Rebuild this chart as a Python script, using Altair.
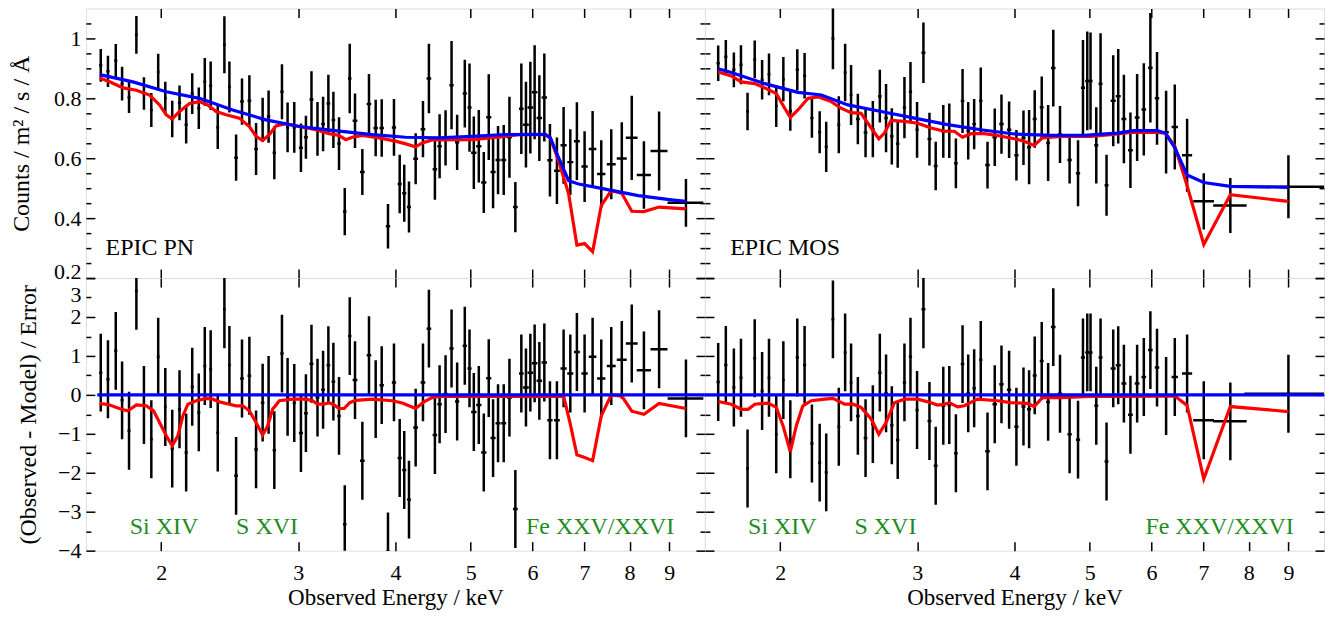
import altair as alt
import pandas as pd

# ---------------- data ----------------
# EPIC PN: bin energies (keV), counts, 1-sigma errors, bin half-widths (keV), residuals
PN_E = [1.672, 1.708, 1.748, 1.781, 1.818, 1.858, 1.900, 1.942, 1.982, 2.024,
        2.066, 2.111, 2.153, 2.192, 2.235, 2.275, 2.315, 2.364, 2.411, 2.447,
        2.496, 2.540, 2.596, 2.648, 2.700, 2.748, 2.795, 2.859, 2.907, 2.965,
        3.024, 3.069, 3.120, 3.176, 3.229, 3.280, 3.329, 3.385, 3.443, 3.494,
        3.549, 3.627, 3.699, 3.773, 3.841, 3.913, 3.983, 4.051, 4.106, 4.164,
        4.247, 4.340, 4.417, 4.496, 4.559, 4.640, 4.723, 4.802, 4.912, 4.981,
        5.045, 5.120, 5.196, 5.273, 5.341, 5.420, 5.512, 5.606, 5.705, 5.807,
        5.887, 5.964, 6.040, 6.125, 6.216, 6.320, 6.452, 6.581, 6.713, 6.845,
        7.003, 7.171, 7.357, 7.578, 7.818, 8.052, 8.347, 8.731, 9.453]
PN_V = [0.910, 0.890, 0.926, 0.849, 0.803, 1.012, 0.816, 0.761, 0.888, 0.800,
        0.731, 0.785, 0.712, 0.816, 0.767, 0.855, 0.842, 0.703, 0.979, 0.838,
        0.602, 0.789, 0.792, 0.631, 0.728, 0.739, 0.618, 0.822, 0.703, 0.703,
        0.635, 0.670, 0.796, 0.698, 0.714, 0.783, 0.728, 0.649, 0.422, 0.866,
        0.725, 0.554, 0.781, 0.701, 0.701, 0.373, 0.703, 0.514, 0.483, 0.437,
        0.598, 0.697, 0.866, 0.563, 0.640, 0.668, 0.844, 0.653, 0.816, 0.769,
        0.618, 0.640, 0.519, 0.737, 0.554, 0.594, 0.594, 0.670, 0.437, 0.765,
        0.712, 0.769, 0.820, 0.734, 0.803, 0.593, 0.558, 0.643, 0.587, 0.657,
        0.572, 0.631, 0.547, 0.580, 0.599, 0.668, 0.544, 0.624, 0.451]
PN_ERR = [0.055, 0.052, 0.055, 0.056, 0.052, 0.063, 0.054, 0.057, 0.061, 0.055,
          0.061, 0.058, 0.063, 0.068, 0.069, 0.080, 0.081, 0.072, 0.095, 0.085,
          0.077, 0.077, 0.085, 0.087, 0.074, 0.087, 0.088, 0.092, 0.083, 0.085,
          0.081, 0.072, 0.094, 0.090, 0.091, 0.096, 0.094, 0.088, 0.079, 0.116,
          0.091, 0.077, 0.100, 0.094, 0.096, 0.074, 0.095, 0.098, 0.095, 0.085,
          0.085, 0.094, 0.116, 0.102, 0.107, 0.092, 0.147, 0.092, 0.113, 0.147,
          0.121, 0.121, 0.102, 0.143, 0.121, 0.114, 0.117, 0.135, 0.084, 0.151,
          0.143, 0.153, 0.157, 0.143, 0.147, 0.121, 0.111, 0.128, 0.110, 0.130,
          0.118, 0.127, 0.113, 0.117, 0.121, 0.141, 0.113, 0.132, 0.080]
PN_XERR = [0.008, 0.008, 0.008, 0.008, 0.008, 0.008, 0.008, 0.008, 0.008, 0.008,
           0.010, 0.010, 0.010, 0.010, 0.010, 0.010, 0.010, 0.010, 0.010, 0.010,
           0.014, 0.014, 0.014, 0.014, 0.014, 0.014, 0.014, 0.014, 0.014, 0.014,
           0.018, 0.018, 0.018, 0.018, 0.018, 0.018, 0.018, 0.018, 0.018, 0.018,
           0.025, 0.025, 0.025, 0.025, 0.025, 0.025, 0.025, 0.025, 0.025, 0.025,
           0.030, 0.030, 0.030, 0.030, 0.030, 0.030, 0.030, 0.030, 0.030, 0.030,
           0.040, 0.040, 0.040, 0.040, 0.040, 0.040, 0.040, 0.040, 0.040, 0.040,
           0.050, 0.050, 0.050, 0.050, 0.050, 0.050, 0.055, 0.060, 0.060, 0.060,
           0.065, 0.080, 0.090, 0.100, 0.115, 0.140, 0.175, 0.220, 0.500]
PN_RES = [0.57, 0.40, 1.13, -0.14, -0.92, 2.67, -0.26, -1.14, 0.98, -0.31,
          -1.38, -0.37, -1.48, 0.21, -0.45, 0.74, 0.66, -0.97, 2.20, 0.77,
          -2.08, 0.42, 0.49, -1.40, -0.20, 0.00, -1.42, 1.06, -0.05, -0.21,
          -0.98, -0.47, 0.80, -0.07, 0.13, 0.76, 0.34, -0.54, -3.32, 1.51,
          0.38, -1.69, 1.02, -0.11, 0.25, -4.02, 0.32, -1.62, -1.93, -2.69,
          -0.84, 0.32, 1.70, -1.03, -0.24, 0.02, 1.19, -0.17, 1.26, 0.68,
          -0.44, -0.26, -1.48, 0.43, -1.11, -0.73, -0.73, -0.07, -2.93, 0.55,
          0.19, 0.57, 0.81, 0.36, 0.83, -0.65, -0.65, 0.68, 0.55, 1.10,
          0.55, 0.98, 0.42, 0.74, 0.90, 1.32, 0.63, 1.17, -0.09]

# EPIC MOS
MOS_E = [1.664, 1.702, 1.743, 1.780, 1.815, 1.854, 1.895, 1.934, 1.976, 2.018,
         2.060, 2.103, 2.149, 2.196, 2.247, 2.291, 2.337, 2.378, 2.423, 2.466,
         2.516, 2.574, 2.630, 2.685, 2.735, 2.782, 2.831, 2.888, 2.940, 2.998,
         3.055, 3.110, 3.168, 3.240, 3.298, 3.363, 3.430, 3.488, 3.550, 3.620,
         3.693, 3.773, 3.849, 3.937, 4.023, 4.108, 4.177, 4.247, 4.336, 4.419,
         4.487, 4.577, 4.709, 4.828, 4.899, 4.962, 5.010, 5.096, 5.161, 5.253,
         5.358, 5.438, 5.530, 5.638, 5.751, 5.866, 5.981, 6.100, 6.266, 6.429,
         6.668, 7.005, 7.578, 9.000]
MOS_V = [0.917, 0.939, 0.895, 0.912, 0.756, 0.930, 0.862, 0.880, 0.774, 0.864,
         0.758, 0.895, 0.875, 0.734, 0.687, 0.638, 1.000, 0.712, 0.886, 0.811,
         0.731, 0.686, 0.697, 0.807, 0.734, 0.673, 0.648, 0.769, 0.822, 0.695,
         0.952, 0.664, 0.574, 0.690, 0.692, 0.583, 0.791, 0.692, 0.714, 0.792,
         0.577, 0.670, 0.714, 0.695, 0.610, 0.668, 0.637, 0.731, 0.770, 0.651,
         0.901, 0.679, 0.594, 0.550, 0.835, 0.858, 0.858, 0.643, 0.849, 0.510,
         0.792, 0.807, 0.731, 0.627, 0.736, 0.763, 0.902, 0.800, 0.687, 0.704,
         0.610, 0.456, 0.442, 0.505]
MOS_ERR = [0.059, 0.056, 0.058, 0.065, 0.063, 0.063, 0.066, 0.070, 0.070, 0.074,
           0.066, 0.069, 0.076, 0.066, 0.070, 0.084, 0.103, 0.095, 0.096, 0.100,
           0.084, 0.083, 0.094, 0.088, 0.114, 0.094, 0.080, 0.102, 0.099, 0.093,
           0.101, 0.088, 0.081, 0.088, 0.091, 0.083, 0.107, 0.096, 0.084, 0.111,
           0.078, 0.096, 0.099, 0.094, 0.084, 0.091, 0.124, 0.096, 0.103, 0.127,
           0.128, 0.095, 0.078, 0.110, 0.160, 0.165, 0.162, 0.127, 0.168, 0.102,
           0.152, 0.158, 0.148, 0.126, 0.145, 0.154, 0.183, 0.155, 0.138, 0.142,
           0.122, 0.094, 0.092, 0.105]
MOS_XERR = [0.008, 0.008, 0.008, 0.008, 0.008, 0.008, 0.008, 0.008, 0.008, 0.008,
            0.010, 0.010, 0.010, 0.010, 0.010, 0.010, 0.010, 0.010, 0.010, 0.010,
            0.014, 0.014, 0.014, 0.014, 0.014, 0.014, 0.014, 0.014, 0.014, 0.014,
            0.018, 0.018, 0.018, 0.018, 0.018, 0.018, 0.018, 0.018, 0.018, 0.018,
            0.025, 0.025, 0.025, 0.025, 0.025, 0.025, 0.025, 0.025, 0.025, 0.025,
            0.030, 0.030, 0.030, 0.030, 0.030, 0.030, 0.030, 0.030, 0.030, 0.030,
            0.040, 0.040, 0.040, 0.040, 0.040, 0.040, 0.040, 0.040, 0.050, 0.060,
            0.100, 0.215, 0.375, 1.100]
MOS_RES = [0.33, 0.77, 0.19, 0.44, -1.89, 0.94, 0.10, 0.44, -1.01, 0.38,
           -1.14, 0.96, 0.77, -1.25, -1.74, -1.99, 1.94, -0.82, 1.09, 0.32,
           -0.54, -1.11, -0.75, 0.57, 0.04, -0.78, -1.16, 0.32, 0.98, -0.39,
           2.20, -0.67, -1.82, -0.28, -0.26, -1.50, 0.79, 0.04, 0.17, 0.90,
           -1.45, -0.24, 0.27, 0.13, -0.82, -0.30, -0.37, 0.50, 0.87, -0.18,
           1.74, 0.03, -1.01, -1.15, 0.96, 1.09, 1.09, -0.28, 0.96, -1.71,
           0.68, 0.76, 0.29, -0.51, 0.29, 0.46, 1.15, 0.70, -0.03, 0.46,
           0.55, -0.65, -0.68, 0.03]
RES_ERR = 1.0  # residuals are in units of the error

# model curves (blue = continuum, red = with absorption lines)
PN_BLUE_E = [1.667, 1.839, 2.030, 2.239, 2.471, 2.727, 3.009, 3.319, 3.736, 4.123, 4.549,
             5.019, 5.539, 6.234, 6.327, 6.484, 6.680, 6.880, 7.444, 8.210, 9.059, 9.453]
PN_BLUE_V = [0.879, 0.855, 0.822, 0.800, 0.761, 0.728, 0.706, 0.693, 0.679, 0.670, 0.668,
             0.673, 0.679, 0.680, 0.668, 0.602, 0.525, 0.514, 0.497, 0.475, 0.461, 0.456]
PN_RED_E = [1.667, 1.717, 1.786, 1.858, 1.932, 1.990, 2.030, 2.066, 2.111, 2.175,
            2.239, 2.295, 2.353, 2.423, 2.520, 2.596, 2.648, 2.700, 2.754, 2.809,
            2.893, 3.009, 3.162, 3.287, 3.385, 3.453, 3.521, 3.627, 3.810, 4.003,
            4.123, 4.247, 4.331, 4.460, 5.019, 5.539, 5.761, 6.234, 6.327, 6.484,
            6.680, 6.845, 7.003, 7.171, 7.357, 7.578, 7.818, 8.052, 8.347, 8.731, 9.453]
PN_RED_V = [0.868, 0.855, 0.835, 0.827, 0.811, 0.778, 0.745, 0.731, 0.756, 0.783,
            0.789, 0.778, 0.756, 0.745, 0.734, 0.706, 0.673, 0.659, 0.679, 0.708,
            0.715, 0.706, 0.695, 0.682, 0.676, 0.662, 0.670, 0.676, 0.668, 0.657,
            0.648, 0.638, 0.651, 0.661, 0.662, 0.673, 0.679, 0.679, 0.668, 0.591,
            0.481, 0.310, 0.315, 0.288, 0.442, 0.492, 0.483, 0.423, 0.422, 0.437, 0.431]
PN_RRES_E = [1.667, 1.717, 1.777, 1.812, 1.858, 1.913, 1.955, 1.990, 2.030, 2.066,
             2.101, 2.132, 2.164, 2.218, 2.285, 2.330, 2.376, 2.447, 2.496, 2.545,
             2.596, 2.648, 2.700, 2.740, 2.781, 2.837, 2.950, 3.069, 3.130, 3.176,
             3.237, 3.287, 3.336, 3.385, 3.436, 3.494, 3.557, 3.736, 3.963, 4.082,
             4.164, 4.247, 4.352, 4.460, 4.549, 5.761, 6.581, 6.713, 6.845, 7.003,
             7.171, 7.357, 7.578, 7.818, 8.052, 8.347, 8.731, 9.453]
PN_RRES_V = [-0.22, -0.26, -0.37, -0.41, -0.26, -0.28, -0.41, -0.71, -1.05, -1.31,
             -1.05, -0.54, -0.24, -0.15, -0.09, -0.11, -0.18, -0.24, -0.28, -0.28,
             -0.41, -0.71, -1.03, -0.80, -0.37, -0.15, -0.11, -0.11, -0.15, -0.24,
             -0.24, -0.20, -0.26, -0.35, -0.35, -0.20, -0.14, -0.11, -0.15, -0.21,
             -0.28, -0.35, -0.18, -0.07, -0.04, -0.04, -0.03, -0.75, -1.54, -1.61,
             -1.69, -0.54, 0.00, -0.03, -0.42, -0.50, -0.22, -0.35]

MOS_BLUE_E = [1.664, 1.730, 1.910, 2.107, 2.258, 2.443, 2.695, 2.975, 3.281, 3.620, 3.996,
              4.452, 4.914, 5.422, 5.695, 6.100, 6.252, 6.429, 6.668, 7.005, 7.578, 9.000]
MOS_BLUE_V = [0.899, 0.886, 0.849, 0.820, 0.811, 0.778, 0.756, 0.734, 0.712, 0.695, 0.681,
              0.676, 0.676, 0.684, 0.692, 0.692, 0.684, 0.635, 0.544, 0.519, 0.506, 0.503]
MOS_RED_E = [1.664, 1.730, 1.782, 1.854, 1.910, 1.976, 2.026, 2.060, 2.107, 2.171,
             2.236, 2.325, 2.394, 2.466, 2.540, 2.617, 2.677, 2.722, 2.776, 2.888,
             3.004, 3.124, 3.250, 3.347, 3.430, 3.515, 3.657, 3.804, 3.996, 4.116,
             4.240, 4.345, 4.585, 5.010, 5.314, 5.638, 6.100, 6.252, 6.429, 6.668,
             7.005, 7.578, 9.000]
MOS_RED_V = [0.888, 0.875, 0.855, 0.849, 0.835, 0.816, 0.767, 0.736, 0.761, 0.800,
             0.805, 0.789, 0.767, 0.752, 0.750, 0.701, 0.665, 0.684, 0.726, 0.723,
             0.717, 0.701, 0.690, 0.690, 0.670, 0.682, 0.682, 0.676, 0.665, 0.657,
             0.643, 0.668, 0.673, 0.673, 0.679, 0.686, 0.686, 0.684, 0.640, 0.508,
             0.312, 0.478, 0.456]
MOS_RRES_E = [1.664, 1.730, 1.782, 1.818, 1.854, 1.929, 1.976, 2.016, 2.060, 2.097,
              2.138, 2.192, 2.280, 2.337, 2.419, 2.479, 2.540, 2.617, 2.677, 2.735,
              2.804, 2.888, 3.004, 3.124, 3.186, 3.250, 3.298, 3.380, 3.448, 3.585,
              3.804, 3.956, 4.157, 4.240, 4.345, 4.585, 5.010, 5.422, 6.266, 6.429,
              6.668, 7.005, 7.578, 9.000]
MOS_RRES_V = [-0.17, -0.24, -0.37, -0.37, -0.24, -0.21, -0.32, -0.79, -1.46, -0.79,
              -0.28, -0.15, -0.11, -0.09, -0.24, -0.24, -0.32, -0.62, -1.01, -0.71,
              -0.20, -0.11, -0.11, -0.20, -0.26, -0.24, -0.20, -0.31, -0.28, -0.11,
              -0.15, -0.20, -0.22, -0.30, -0.07, -0.07, -0.04, -0.04, -0.03, -0.03,
              -0.27, -2.16, -0.30, -0.43]

PN_ZERO_E = [1.655, 10.5]
MOS_ZERO_E = [1.6, 10.5]
ZERO_V = [0.0, 0.0]

# annotations
DET_LABELS = ["EPIC PN", "EPIC MOS"]
DET_E = [1.696, 1.724]
DET_V = 0.277
ION_LABELS = ["Si XIV", "S XVI", "Fe XXV/XXVI"]
ION_E_PN = [1.822, 2.496, 5.887]
ION_E_MOS = [1.818, 2.491, 5.894]
ION_V = -3.57

X_TITLE = "Observed Energy / keV"
Y_TITLE_TOP = "Counts / m² / s / Å"
Y_TITLE_RES = "(Observed - Model) / Error"

# ---------------- styling / layout ----------------
FONT = "Liberation Serif, 'Times New Roman', Times, 'DejaVu Serif', serif"
W = 620
H_TOP = 270
H_RES = 273
XDOM = [1.6, 10.0]
X_TICKS = [2, 3, 4, 5, 6, 7, 8, 9]
TOP_DOM = [0.2, 1.1]
TOP_MAJ = [0.2, 0.4, 0.6, 0.8, 1.0]
TOP_MIN = [0.25, 0.3, 0.35, 0.45, 0.5, 0.55, 0.65, 0.7, 0.75, 0.85, 0.9, 0.95, 1.05]
RES_DOM = [-4, 3]
RES_MAJ = [-4, -3, -2, -1, 0, 1, 2, 3]
RES_MIN = [-3.5, -2.5, -1.5, -0.5, 0.5, 1.5, 2.5]
GREEN = "#1e8c1e"
RED = "#ff0000"
BLUE = "#0000ff"
MAJ = 9
MIN = 5

AX = dict(domain=False, grid=False, tickColor="black", tickWidth=1.5,
          labelFont=FONT, labelFontSize=22, labelColor="black", labelOverlap=False,
          labelBound=False,
          titleFont=FONT, titleFontWeight="normal", titleColor="black")


def points_df(E, V, ERR, XERR):
    return pd.DataFrame({
        "E": E, "v": V,
        "lo": [v - e for v, e in zip(V, ERR)],
        "hi": [v + e for v, e in zip(V, ERR)],
        "xlo": [x - d for x, d in zip(E, XERR)],
        "xhi": [x + d for x, d in zip(E, XERR)],
    })


def line_df(E, V):
    return pd.DataFrame({"E": E, "v": V})


def panel(pts, red, blue, det_label, det_e, det_v, ion_df, ydom, ymaj, ymin,
          height, left, bottom, ytitle, label_cond, title_pad):
    xs = alt.Scale(type="log", domain=XDOM, nice=False)
    ys = alt.Scale(domain=ydom, nice=False, zero=False)
    ghost = alt.Chart(pts).mark_point(opacity=0, clip=True)

    xbot = alt.Axis(orient="bottom", values=X_TICKS, format="d", tickSize=MAJ, offset=-MAJ,
                    labels=bottom, labelPadding=12, titleFontSize=23,
                    title=X_TITLE if bottom else None, titlePadding=3, **AX)
    xtop = alt.Axis(orient="top", values=X_TICKS, tickSize=MAJ, offset=-MAJ,
                    labels=False, title=None, **AX)
    yl_kwargs = dict(orient="left", values=ymaj, format="~g", tickSize=MAJ, offset=-MAJ,
                     labels=left, labelPadding=5, titleFontSize=24,
                     title=ytitle if left else None, titlePadding=title_pad, **AX)
    if left:
        yl_kwargs.update(label_cond)
    yleft = alt.Axis(**yl_kwargs)
    yleft_min = alt.Axis(orient="left", values=ymin, tickSize=MIN, offset=-MIN,
                         labels=False, title=None, **AX)
    yright = alt.Axis(orient="right", values=ymaj, tickSize=MAJ, offset=-MAJ,
                      labels=False, title=None, **AX)
    yright_min = alt.Axis(orient="right", values=ymin, tickSize=MIN, offset=-MIN,
                          labels=False, title=None, **AX)

    a1 = ghost.encode(x=alt.X("E:Q", scale=xs, axis=xbot), y=alt.Y("v:Q", scale=ys, axis=yleft))
    a2 = ghost.encode(x=alt.X("E:Q", scale=xs, axis=xtop), y=alt.Y("v:Q", scale=ys, axis=yright))
    a3 = ghost.encode(x=alt.X("E:Q", scale=xs, axis=None), y=alt.Y("v:Q", scale=ys, axis=yleft_min))
    a4 = ghost.encode(x=alt.X("E:Q", scale=xs, axis=None), y=alt.Y("v:Q", scale=ys, axis=yright_min))

    base = alt.Chart(pts)
    vbar = base.mark_rule(color="black", strokeWidth=2.5, clip=True).encode(
        x=alt.X("E:Q", scale=xs, axis=None),
        y=alt.Y("lo:Q", scale=ys, axis=None), y2="hi:Q")
    hbar = base.mark_rule(color="black", strokeWidth=2.5, clip=True).encode(
        x=alt.X("xlo:Q", scale=xs, axis=None), x2="xhi:Q",
        y=alt.Y("v:Q", scale=ys, axis=None))
    rline = alt.Chart(red).mark_line(color=RED, strokeWidth=3.2, clip=True).encode(
        x=alt.X("E:Q", scale=xs, axis=None), y=alt.Y("v:Q", scale=ys, axis=None))
    bline = alt.Chart(blue).mark_line(color=BLUE, strokeWidth=3.2, clip=True).encode(
        x=alt.X("E:Q", scale=xs, axis=None), y=alt.Y("v:Q", scale=ys, axis=None))

    layers = [a1, a2, a3, a4, vbar, hbar, rline, bline]
    if det_label is not None:
        det_df = pd.DataFrame({"E": [det_e], "v": [det_v], "t": [det_label]})
        layers.append(alt.Chart(det_df).mark_text(
            font=FONT, fontSize=24, align="left", baseline="alphabetic", color="black").encode(
            x=alt.X("E:Q", scale=xs, axis=None), y=alt.Y("v:Q", scale=ys, axis=None), text="t:N"))
    if ion_df is not None:
        layers.append(alt.Chart(ion_df).mark_text(
            font=FONT, fontSize=24, align="left", baseline="alphabetic", color=GREEN).encode(
            x=alt.X("E:Q", scale=xs, axis=None), y=alt.Y("v:Q", scale=ys, axis=None), text="t:N"))

    return alt.layer(*layers).resolve_axis(x="independent", y="independent").properties(
        width=W, height=height)


pn_top = points_df(PN_E, PN_V, PN_ERR, PN_XERR)
pn_res = points_df(PN_E, PN_RES, [RES_ERR for _ in PN_E], PN_XERR)
mos_top = points_df(MOS_E, MOS_V, MOS_ERR, MOS_XERR)
mos_res = points_df(MOS_E, MOS_RES, [RES_ERR for _ in MOS_E], MOS_XERR)

ion_pn = pd.DataFrame({"E": ION_E_PN, "v": [ION_V] * 3, "t": ION_LABELS})
ion_mos = pd.DataFrame({"E": ION_E_MOS, "v": [ION_V] * 3, "t": ION_LABELS})

top_cond = {"labelBaseline": {"condition": {"test": "datum.value < 0.25", "value": "alphabetic"},
                              "value": "middle"}}
res_cond = {"labelOffset": {"condition": {"test": "datum.value > 2.5", "value": 16}, "value": 0}}

TL = panel(pn_top, line_df(PN_RED_E, PN_RED_V), line_df(PN_BLUE_E, PN_BLUE_V),
           DET_LABELS[0], DET_E[0], DET_V, None, TOP_DOM, TOP_MAJ, TOP_MIN, H_TOP,
           True, False, Y_TITLE_TOP, top_cond, 20)
TR = panel(mos_top, line_df(MOS_RED_E, MOS_RED_V), line_df(MOS_BLUE_E, MOS_BLUE_V),
           DET_LABELS[1], DET_E[1], DET_V, None, TOP_DOM, TOP_MAJ, TOP_MIN, H_TOP,
           False, False, None, top_cond, 20)
BL = panel(pn_res, line_df(PN_RRES_E, PN_RRES_V), line_df(PN_ZERO_E, ZERO_V),
           None, None, None, ion_pn, RES_DOM, RES_MAJ, RES_MIN, H_RES,
           True, True, Y_TITLE_RES, res_cond, 17)
BR = panel(mos_res, line_df(MOS_RRES_E, MOS_RRES_V), line_df(MOS_ZERO_E, ZERO_V),
           None, None, None, ion_mos, RES_DOM, RES_MAJ, RES_MIN, H_RES,
           False, True, None, res_cond, 17)

chart = alt.concat(TL, TR, BL, BR, columns=2, spacing=0, bounds="flush").properties(
    padding={"left": 1, "top": -2, "right": 5, "bottom": 5}
).configure_view(stroke="black", strokeWidth=1.8).configure(background="white")

chart.save("out.html", embed_options={"renderer": "svg", "actions": False})
